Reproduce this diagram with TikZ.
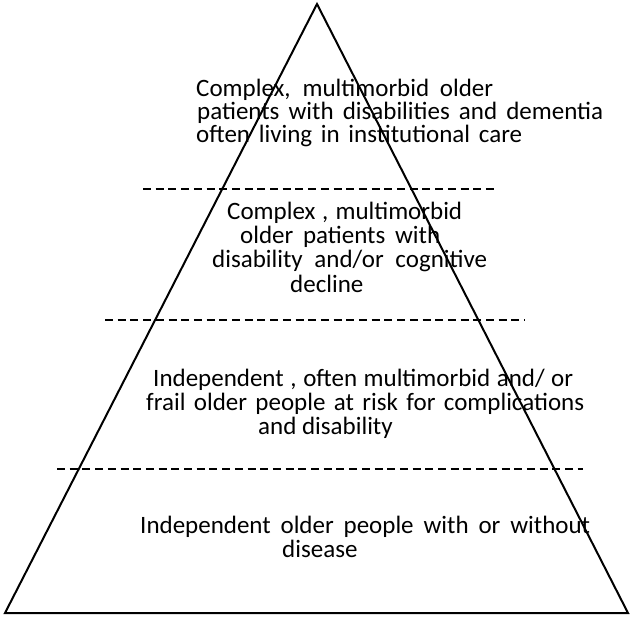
\documentclass[tikz,border=0pt]{standalone}
\usepackage{fontspec}
\setmainfont{Carlito}
\newcommand{\spreadline}[2]{\makebox[#1pt][s]{#2}}
\begin{document}
\begin{tikzpicture}[x=1pt,y=-1pt,
  lbl/.style={anchor=base west,inner sep=0pt,font=\fontsize{25}{28}\selectfont},
  tri/.style={draw=black,line width=2pt,line join=miter},
  sep/.style={draw=black,line width=1.5pt,dash pattern=on 8pt off 4.7pt}]
\useasboundingbox (0,0) rectangle (633,619);
\coordinate (apex) at (317,4);
\coordinate (bl) at (5,613);
\coordinate (br) at (628,613);
\draw[tri] (apex) -- (br) -- (bl) -- cycle;
\coordinate (d1a) at (143,189); \coordinate (d1b) at (497,189);
\coordinate (d2a) at (105,320); \coordinate (d2b) at (525,320);
\coordinate (d3a) at (57,469);  \coordinate (d3b) at (583,469);
\draw[sep] (d1a) -- (d1b);
\draw[sep] (d2a) -- (d2b);
\draw[sep] (d3a) -- (d3b);
\node[lbl] (t11) at (196,96)  {\spreadline{297}{Complex, multimorbid older}};
\node[lbl] (t12) at (197,119) {\spreadline{406}{patients with disabilities and dementia}};
\node[lbl] (t13) at (196,142) {\spreadline{326}{often living in institutional care}};
\node[lbl] (t21) at (227,219) {\spreadline{235}{Complex , multimorbid}};
\node[lbl] (t22) at (240,243) {\spreadline{200}{older patients with}};
\node[lbl] (t23) at (212,267) {\spreadline{275}{disability and/or cognitive}};
\node[lbl] (t24) at (290,292) {decline};
\node[lbl] (t31) at (153,386) {\spreadline{420}{Independent , often multimorbid and/ or}};
\node[lbl] (t32) at (146,410) {\spreadline{438}{frail older people at risk for complications}};
\node[lbl] (t33) at (258,434) {and disability};
\node[lbl] (t41) at (140,533) {\spreadline{450}{Independent older people with or without}};
\node[lbl] (t42) at (282,557) {disease};
\end{tikzpicture}
\end{document}
